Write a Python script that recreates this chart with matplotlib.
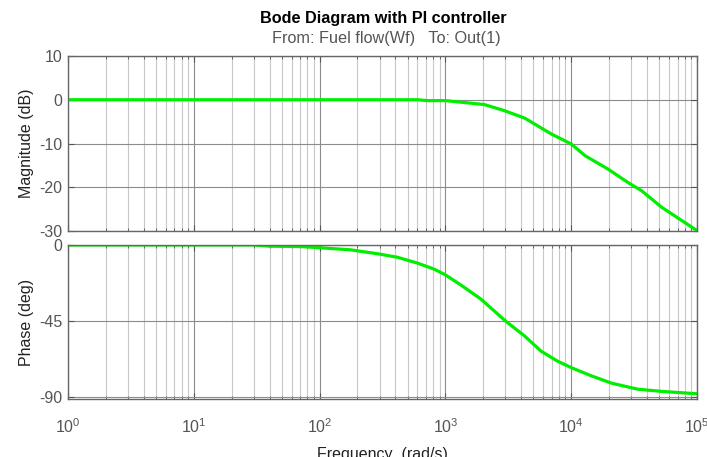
import numpy as np
import matplotlib.pyplot as plt

# Values (frequency in rad/s)
mag_freq = [1, 10, 100, 180, 600, 720, 1000, 2040, 2950, 4270, 6920, 10000,
            12900, 19500, 28200, 36300, 52500, 100000]
mag_db = [0, 0, 0, 0, 0, -0.2, -0.2, -1.1, -2.5, -4.2, -7.8, -10.1,
          -12.8, -15.8, -18.9, -20.8, -24.6, -29.9]

ph_freq = [1, 30, 40, 70, 100, 178, 295, 417, 603, 813, 1000, 1320, 1910,
           3020, 4270, 5750, 7760, 10000, 14500, 20900, 33900, 52500, 100000]
ph_deg = [0, 0, -0.7, -0.9, -1.6, -2.9, -5.3, -7.3, -10.8, -14.3, -17.7,
          -23.6, -32.0, -45.2, -54.0, -62.9, -68.8, -72.7, -77.6, -81.9,
          -85.5, -86.8, -88.2]

mag_ticks = [-30, -20, -10, 0, 10]
ph_ticks = [-90, -45, 0]

plt.rcParams['font.family'] = ['Liberation Sans', 'DejaVu Sans']
plt.rcParams['mathtext.fontset'] = 'custom'
plt.rcParams['mathtext.rm'] = 'Liberation Sans'
plt.rcParams['axes.unicode_minus'] = False

W, H = 707, 457
fig = plt.figure(figsize=(W / 100, H / 100), dpi=100)

def box(x0, y0, x1, y1):
    return [x0 / W, 1 - y1 / H, (x1 - x0) / W, (y1 - y0) / H]

ax1 = fig.add_axes(box(68, 56, 697, 231))
ax2 = fig.add_axes(box(68, 245, 697, 399), sharex=ax1)

green = '#00ee00'
ax1.semilogx(mag_freq, mag_db, color=green, lw=2.3)
ax2.semilogx(ph_freq, ph_deg, color=green, lw=2.3)

ax1.set_xlim(1, 1e5)
ax1.set_ylim(-30, 10)
ax2.set_ylim(-91.3, 0)
ax1.set_yticks(mag_ticks)
ax2.set_yticks(ph_ticks)

for ax in (ax1, ax2):
    ax.grid(True, which='major', color='#8c8c8c', lw=0.8)
    ax.grid(True, which='minor', color='#c8c8c8', lw=0.8)
    ax.set_axisbelow(True)
    ax.tick_params(which='both', direction='in', colors='#555555',
                   labelsize=11.5, top=True, right=True)
    ax.tick_params(which='major', length=4)
    ax.tick_params(which='minor', length=2)
    ax.tick_params(axis='y', pad=4)
    for s in ax.spines.values():
        s.set_color('#666666')
        s.set_linewidth(1.0)

ax2.tick_params(axis='x', pad=13)
plt.setp(ax1.get_xticklabels(), visible=False)

ax1.set_ylabel('Magnitude (dB)', fontsize=11.5, color='#222222', labelpad=4)
ax2.set_ylabel('Phase (deg)', fontsize=11.5, color='#222222', labelpad=4)
ax2.set_xlabel('Frequency  (rad/s)', fontsize=11.5, color='#222222', labelpad=8)

fig.text(383 / W, 1 - 18 / H, 'Bode Diagram with PI controller',
         ha='center', va='center', fontsize=11.7, fontweight='bold', color='black')
fig.text(386 / W, 1 - 38.5 / H, 'From: Fuel flow(Wf)   To: Out(1)',
         ha='center', va='center', fontsize=11.7, color='#555555')

fig.savefig('out.png', dpi=100, facecolor='white')
